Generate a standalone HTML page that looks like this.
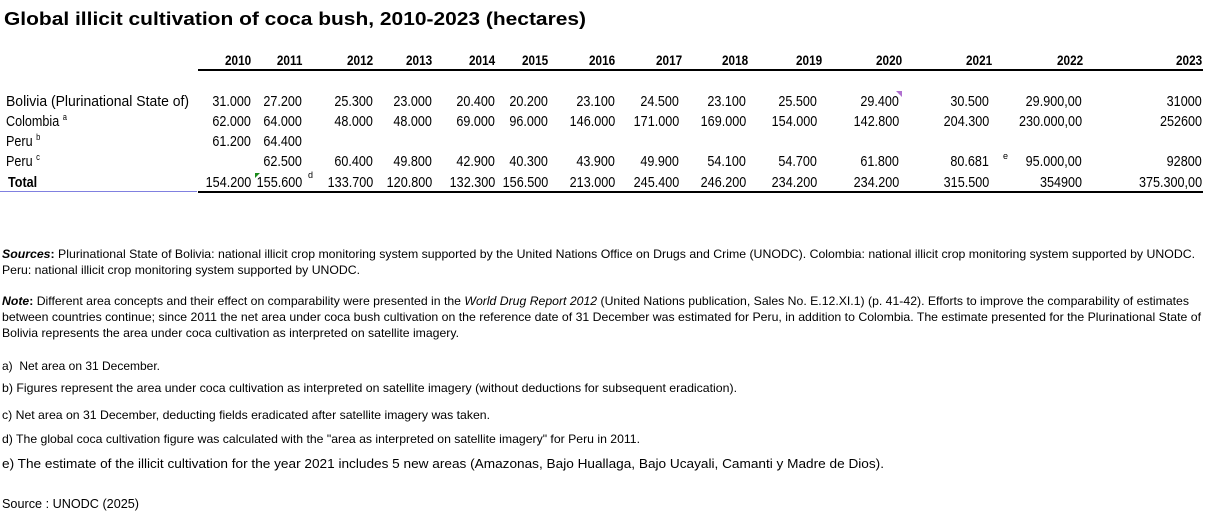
<!DOCTYPE html>
<html><head><meta charset="utf-8">
<style>
body{margin:0;width:1212px;height:515px;background:#fff;position:relative;overflow:hidden;font-family:"Liberation Sans",Arial,sans-serif;color:#000}
.t{position:absolute;white-space:nowrap;transform-origin:0 50%;line-height:1}
.v{position:absolute;white-space:nowrap;font-size:15px;line-height:1;transform:scaleX(.84);transform-origin:100% 50%;text-align:right}
.h{font-weight:bold;font-size:14px}
sup{font-size:9px;vertical-align:baseline;position:relative;top:-6px;line-height:0}
.ln{position:absolute;height:2px;background:#000}
.lb{font-size:15px;transform:scaleX(.84)}
</style></head><body>
<div class="t fit" style="left:4px;top:10px;font-size:18px;font-weight:bold;--w:582">Global illicit cultivation of coca bush, 2010-2023 (hectares)</div>

<div class="ln" style="left:198px;top:69px;width:1005px;height:1.5px"></div>
<div class="ln" style="left:198px;top:191px;width:1005px;height:1.5px"></div>
<div class="ln" style="left:0;top:191px;width:197px;height:1px;background:#8080e0"></div>

<div class="t fit" style="left:6px;top:94px;font-size:15px;--w:183">Bolivia (Plurinational State of)</div>
<div class="t lb" style="left:6px;top:114px">Colombia <sup>a</sup></div>
<div class="t lb" style="left:6px;top:134px">Peru <sup>b</sup></div>
<div class="t lb" style="left:6px;top:154px">Peru <sup>c</sup></div>
<div class="t lb" style="left:8px;top:175px;font-weight:bold">Total</div>

<div id="tbl"></div>
<div style="position:absolute;left:255px;top:173px;width:0;height:0;border-top:5px solid #1a8a1a;border-right:5px solid transparent"></div>
<div style="position:absolute;left:896px;top:91px;width:0;height:0;border-top:6px solid #b070d0;border-left:6px solid transparent"></div>
<div class="t" style="left:308px;top:171px;font-size:9px">d</div>
<div class="t" style="left:1003px;top:152px;font-size:9px">e</div>

<div class="t fit" style="left:2px;top:248px;font-size:12px;--w:1193"><b><i>Sources</i>:</b> Plurinational State of Bolivia: national illicit crop monitoring system supported by the United Nations Office on Drugs and Crime (UNODC). Colombia: national illicit crop monitoring system supported by UNODC.</div>
<div class="t fit" style="left:2px;top:264px;font-size:12px;--w:358">Peru: national illicit crop monitoring system supported by UNODC.</div>
<div class="t fit" style="left:2px;top:295px;font-size:12px;--w:1187"><b><i>Note</i>:</b> Different area concepts and their effect on comparability were presented in the <i>World Drug Report 2012</i> (United Nations publication, Sales No. E.12.XI.1) (p. 41-42). Efforts to improve the comparability of estimates</div>
<div class="t fit" style="left:2px;top:311px;font-size:12px;--w:1199">between countries continue; since 2011 the net area under coca bush cultivation on the reference date of 31 December was estimated for Peru, in addition to Colombia. The estimate presented for the Plurinational State of</div>
<div class="t fit" style="left:2px;top:327px;font-size:12px;--w:457">Bolivia represents the area under coca cultivation as interpreted on satellite imagery.</div>

<div class="t fit" style="left:2px;top:360px;font-size:12px;--w:158">a)&nbsp; Net area on 31 December.</div>
<div class="t fit" style="left:2px;top:382px;font-size:12px;--w:735">b) Figures represent the area under coca cultivation as interpreted on satellite imagery (without deductions for subsequent eradication).</div>
<div class="t fit" style="left:2px;top:409px;font-size:12px;--w:488">c) Net area on 31 December, deducting fields eradicated after satellite imagery was taken.</div>
<div class="t fit" style="left:2px;top:433px;font-size:12px;--w:638">d) The global coca cultivation figure was calculated with the "area as interpreted on satellite imagery" for Peru in 2011.</div>
<div class="t fit" style="left:2px;top:457px;font-size:13px;--w:882">e) The estimate of the illicit cultivation for the year 2021 includes 5 new areas (Amazonas, Bajo Huallaga, Bajo Ucayali, Camanti y Madre de Dios).</div>
<div class="t fit" style="left:2px;top:497px;font-size:13px;--w:137">Source : UNODC (2025)</div>

<script>
var R=[251,302,373,432,495,548,615,682,748,822,902,992,1083,1202];
var H=["2010","2011","2012","2013","2014","2015","2016","2017","2018","2019","2020","2021","2022","2023"];
var D=[
["31.000","27.200","25.300","23.000","20.400","20.200","23.100","24.500","23.100","25.500","29.400","30.500","29.900,00","31000"],
["62.000","64.000","48.000","48.000","69.000","96.000","146.000","171.000","169.000","154.000","142.800","204.300","230.000,00","252600"],
["61.200","64.400","","","","","","","","","","","",""],
["","62.500","60.400","49.800","42.900","40.300","43.900","49.900","54.100","54.700","61.800","80.681","95.000,00","92800"],
["154.200","155.600","133.700","120.800","132.300","156.500","213.000","245.400","246.200","234.200","234.200","315.500","354900","375.300,00"]];
var Y=[94,114,134,154,175];
var adj=[0,0,0,0,0,0,0,-3,-2,-5,-3,-3,-1,0];
var h="";
for(var i=0;i<14;i++){
 h+='<div class="v h" style="right:'+(1212-R[i])+'px;top:53px">'+H[i]+'</div>';
 for(var r=0;r<5;r++){ if(D[r][i]) h+='<div class="v" style="right:'+(1212-R[i]-adj[i])+'px;top:'+Y[r]+'px">'+D[r][i]+'</div>';}
}
document.getElementById('tbl').innerHTML=h;
var f=document.querySelectorAll('.fit');
for(var k=0;k<f.length;k++){var e=f[k];var w=parseFloat(getComputedStyle(e).getPropertyValue('--w'));var a=e.getBoundingClientRect().width;if(a>0)e.style.transform='scaleX('+(w/a)+')';}
</script>
</body></html>
